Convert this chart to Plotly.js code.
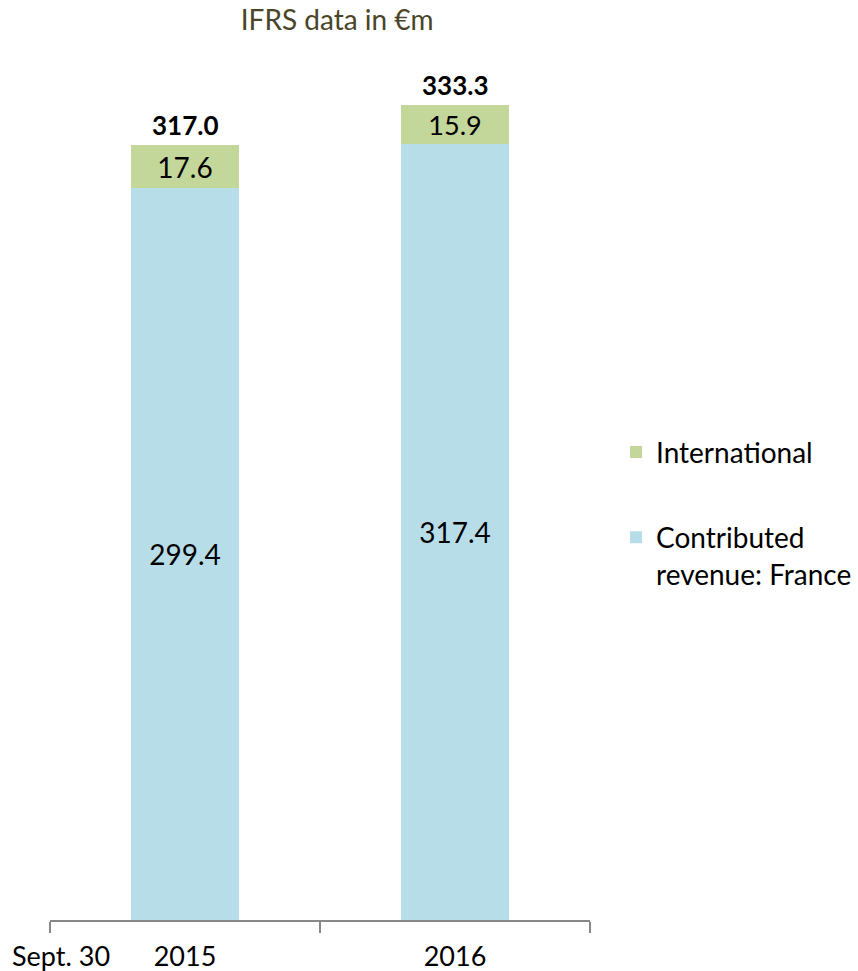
<!DOCTYPE html>
<html>
<head>
<meta charset="utf-8">
<script src="https://cdn.plot.ly/plotly-3.0.1.min.js"></script>
<style>html,body{margin:0;padding:0;background:#fff;}#chart{width:858px;height:971px;}</style>
</head>
<body>
<div id="chart"></div>
<script>
const categories = ["2015", "2016"];
const france = [299.4, 317.4];
const international = [17.6, 15.9];
const totals = [317.0, 333.3];
const seriesNames = ["Contributed<br>revenue: France", "International"];
const axisNote = "Sept. 30";
const chartTitle = "IFRS data in €m";

const labelFont = {family: "Lato, 'Liberation Sans', sans-serif", size: 28, color: "#000"};
const uiFont = "Lato, 'DejaVu Sans', sans-serif";

const traces = [
  {
    type: "bar", x: categories, y: france, name: seriesNames[0],
    marker: {color: "#b7dde8"},
    text: france.map(v => v.toFixed(1)), textposition: "inside", insidetextanchor: "middle",
    textfont: labelFont, hoverinfo: "skip", legendgroup: "a", legendrank: 2
  },
  {
    type: "bar", x: categories, y: international, name: seriesNames[1],
    marker: {color: "#c4d79b"},
    text: international.map(v => v.toFixed(1)), textposition: "inside", insidetextanchor: "middle",
    textfont: labelFont, hoverinfo: "skip", legendgroup: "b", legendrank: 1
  }
];

const annotations = categories.map((c, i) => ({
  x: i, y: totals[i], xref: "x", yref: "y", text: "<b>" + totals[i].toFixed(1) + "</b>",
  showarrow: false, yanchor: "bottom", yshift: 2,
  font: {family: "Lato, 'Liberation Sans', sans-serif", size: 26, color: "#000"}
}));
annotations.push({
  xref: "paper", yref: "paper", x: -0.074, y: -0.04, xanchor: "left", yanchor: "middle",
  text: axisNote, showarrow: false, font: {family: uiFont, size: 27, color: "#000"}
});

const layout = {
  width: 858, height: 971,
  margin: {l: 50, r: 268, t: 40, b: 51},
  paper_bgcolor: "#fff", plot_bgcolor: "#fff",
  barmode: "stack", bargap: 0.6,
  title: {text: chartTitle, x: 0.393, xref: "container", xanchor: "center", y: 0.979, yref: "container", yanchor: "middle",
          font: {family: uiFont, size: 28, color: "#4a4528"}},
  xaxis: {
    type: "category", range: [-0.5, 1.5], autorange: false, showline: true, linecolor: "#888", linewidth: 1.5,
    ticks: "outside", tickson: "boundaries", ticklen: 11, tickcolor: "#888", tickwidth: 1.5,
    tickfont: {family: uiFont, size: 27, color: "#000"}, showgrid: false, zeroline: false, tickangle: 0,
    ticklabelstandoff: 12, automargin: false
  },
  yaxis: {range: [0, 360], autorange: false, visible: false, showgrid: false, zeroline: false},
  showlegend: true,
  legend: {
    xref: "container", yref: "container",
    x: 0.718, xanchor: "left", y: 0.56, yanchor: "top",
    traceorder: "grouped", tracegroupgap: 46, valign: "top",
    font: {family: uiFont, size: 28, color: "#000"}, itemwidth: 30, bgcolor: "rgba(0,0,0,0)"
  },
  annotations: annotations
};

Plotly.newPlot("chart", traces, layout, {displayModeBar: false, staticPlot: true});
</script>
</body>
</html>
